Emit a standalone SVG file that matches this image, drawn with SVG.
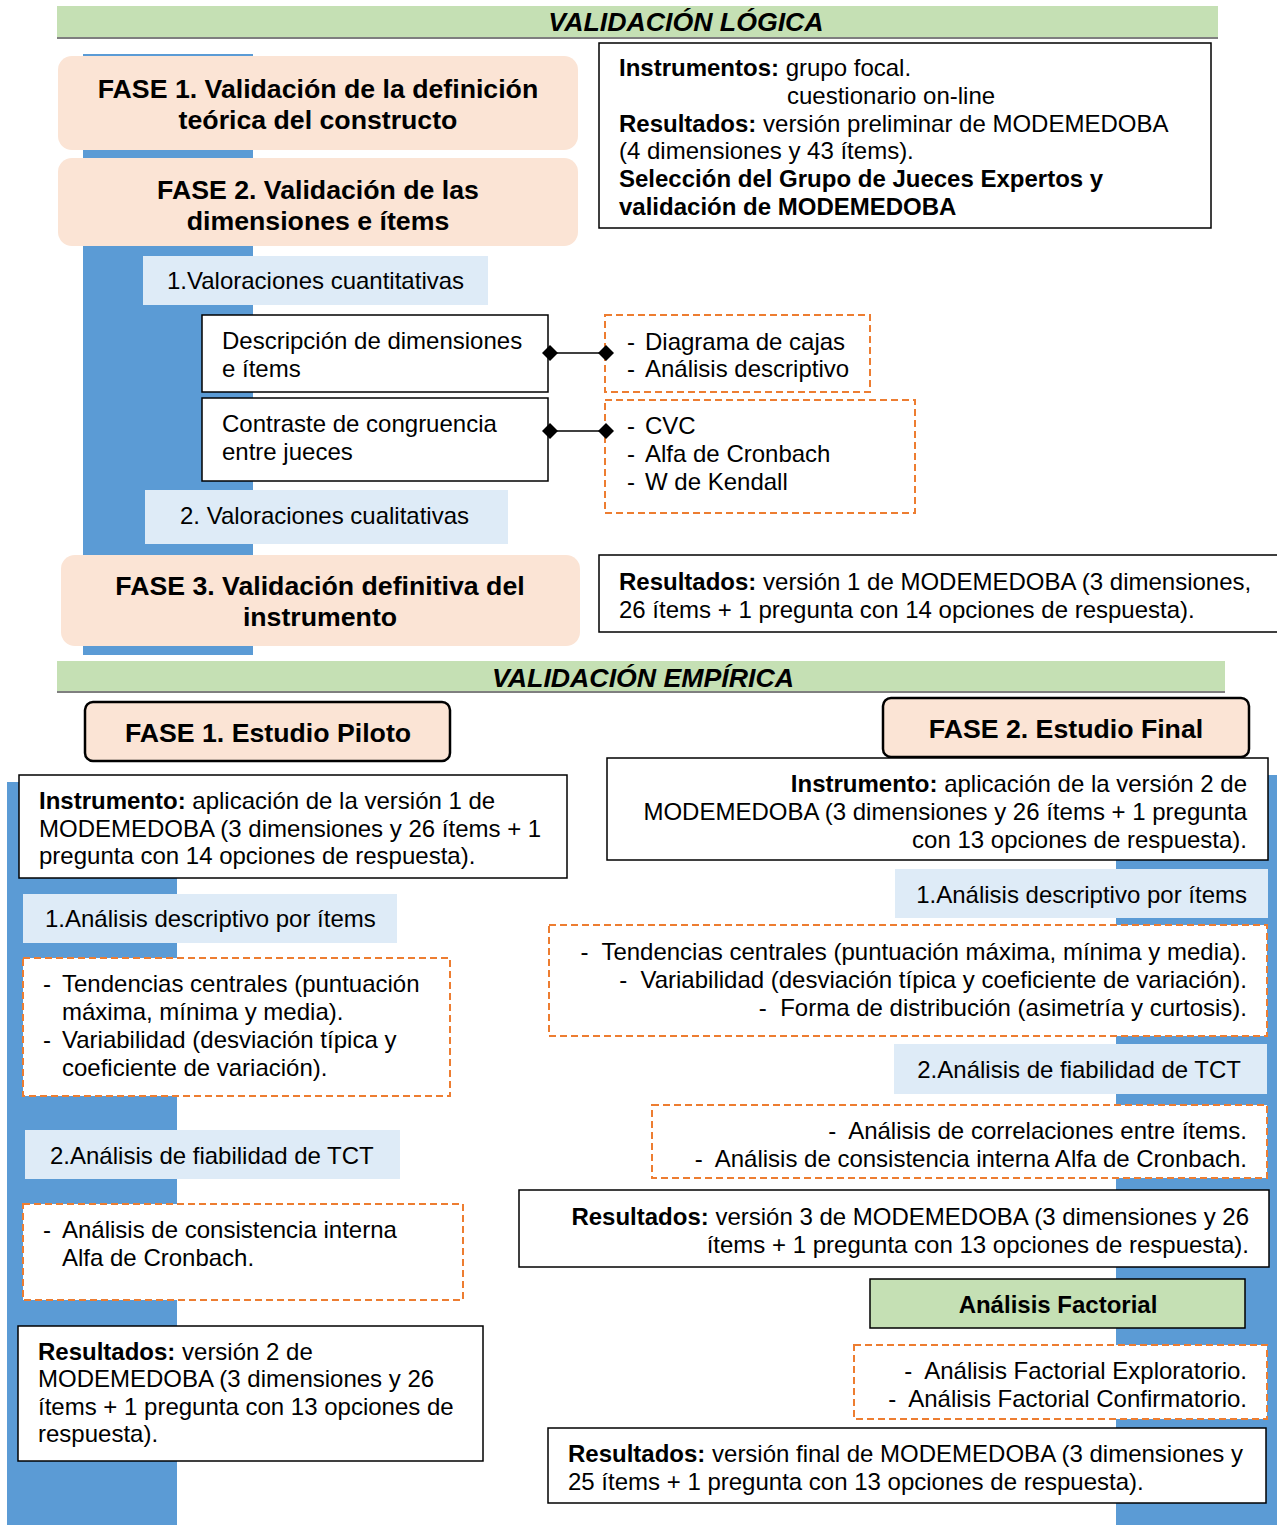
<svg xmlns="http://www.w3.org/2000/svg" width="1277" height="1525" viewBox="0 0 1277 1525">
  <defs>
    <marker id="diamond" viewBox="0 0 16 16" refX="8" refY="8" markerWidth="16" markerHeight="16" markerUnits="userSpaceOnUse" orient="auto">
      <path d="M0,8 L8,0 L16,8 L8,16 Z" fill="#000"/>
    </marker>
    <style>
      text { font-family: "Liberation Sans", Arial, sans-serif; font-size: 24px; fill: #000; }
      .b { font-weight: bold; }
      .banner-title { font-weight: bold; font-style: italic; font-size: 26.7px; text-anchor: middle; }
      .phase-title { font-weight: bold; font-size: 26.7px; text-anchor: middle; }
      .r { text-anchor: end; }
      .banner { fill: #C5E0B4; }
      .rule { stroke: #7F7F7F; stroke-width: 2; }
      .spine { fill: #5B9BD5; }
      .phase { fill: #FBE4D5; }
      .phase-outlined { fill: #FBE4D5; stroke: #000; stroke-width: 2.5; }
      .step { fill: #DEEBF7; }
      .box { fill: #fff; stroke: #000; stroke-width: 1.5; }
      .list { fill: #fff; stroke: #ED7D31; stroke-width: 2; stroke-dasharray: 7 4; }
      .factor { fill: #C5E0B4; stroke: #000; stroke-width: 1.5; }
      .link { stroke: #000; stroke-width: 1.5; fill: none; }
    </style>
  </defs>

  <rect width="1277" height="1525" fill="#fff"/>

  <!-- vertical spines behind the steps -->
  <rect class="spine" x="83" y="54" width="170" height="601"/>
  <rect class="spine" x="7" y="782" width="170" height="743"/>
  <rect class="spine" x="1116" y="775" width="161" height="750"/>

  <!-- ===== Logical validation ===== -->
  <g id="banner-logica">
    <rect class="banner" x="57" y="6" width="1161" height="31"/>
    <line class="rule" x1="57" y1="38" x2="1218" y2="38"/>
    <text class="banner-title" x="686" y="31">VALIDACIÓN LÓGICA</text>
  </g>

  <g id="fase1-logica">
    <rect class="phase" x="58" y="56" width="520" height="94" rx="14"/>
    <text class="phase-title" x="318" y="98">FASE 1. Validación de la definición</text>
    <text class="phase-title" x="318" y="129">teórica del constructo</text>
  </g>

  <g id="fase2-logica">
    <rect class="phase" x="58" y="158" width="520" height="88" rx="14"/>
    <text class="phase-title" x="318" y="199">FASE 2. Validación de las</text>
    <text class="phase-title" x="318" y="230">dimensiones e ítems</text>
  </g>

  <g id="instrumentos-logica">
    <rect class="box" x="599" y="43" width="612" height="185"/>
    <text x="619" y="76"><tspan class="b">Instrumentos:</tspan> grupo focal.</text>
    <text x="787" y="104">cuestionario on-line</text>
    <text x="619" y="132"><tspan class="b">Resultados:</tspan> versión preliminar de MODEMEDOBA</text>
    <text x="619" y="159">(4 dimensiones y 43 ítems).</text>
    <text class="b" x="619" y="187">Selección del Grupo de Jueces Expertos y</text>
    <text class="b" x="619" y="215">validación de MODEMEDOBA</text>
  </g>

  <g id="valoraciones-cuantitativas">
    <rect class="step" x="143" y="256" width="345" height="49"/>
    <text x="167" y="289">1.Valoraciones cuantitativas</text>
  </g>

  <g id="descripcion">
    <rect class="box" x="202" y="315" width="346" height="77"/>
    <text x="222" y="349">Descripción de dimensiones</text>
    <text x="222" y="377">e ítems</text>
  </g>

  <g id="contraste">
    <rect class="box" x="202" y="398" width="346" height="83"/>
    <text x="222" y="432">Contraste de congruencia</text>
    <text x="222" y="460">entre jueces</text>
  </g>

  <g id="lista-descripcion">
    <rect class="list" x="605" y="315" width="265" height="77"/>
    <text x="627" y="350">-</text><text x="645" y="350">Diagrama de cajas</text>
    <text x="627" y="377">-</text><text x="645" y="377">Análisis descriptivo</text>
  </g>

  <g id="lista-contraste">
    <rect class="list" x="605" y="400" width="310" height="113"/>
    <text x="627" y="434">-</text><text x="645" y="434">CVC</text>
    <text x="627" y="462">-</text><text x="645" y="462">Alfa de Cronbach</text>
    <text x="627" y="490">-</text><text x="645" y="490">W de Kendall</text>
  </g>

  <g id="valoraciones-cualitativas">
    <rect class="step" x="145" y="490" width="363" height="54"/>
    <text x="180" y="524">2. Valoraciones cualitativas</text>
  </g>

  <g id="fase3-logica">
    <rect class="phase" x="61" y="555" width="519" height="91" rx="14"/>
    <text class="phase-title" x="320" y="595">FASE 3. Validación definitiva del</text>
    <text class="phase-title" x="320" y="626">instrumento</text>
  </g>

  <g id="resultados-logica">
    <rect class="box" x="599" y="555" width="690" height="77"/>
    <text x="619" y="590"><tspan class="b">Resultados:</tspan> versión 1 de MODEMEDOBA (3 dimensiones,</text>
    <text x="619" y="618">26 ítems + 1 pregunta con 14 opciones de respuesta).</text>
  </g>

  <!-- ===== Empirical validation ===== -->
  <g id="banner-empirica">
    <rect class="banner" x="57" y="661" width="1168" height="31"/>
    <line class="rule" x1="57" y1="692" x2="1225" y2="692"/>
    <text class="banner-title" x="643" y="687">VALIDACIÓN EMPÍRICA</text>
  </g>

  <g id="fase1-empirica">
    <rect class="phase-outlined" x="85" y="702" width="365" height="59" rx="8"/>
    <text class="phase-title" x="268" y="742">FASE 1. Estudio Piloto</text>
  </g>

  <g id="fase2-empirica">
    <rect class="phase-outlined" x="883" y="698" width="366" height="59" rx="8"/>
    <text class="phase-title" x="1066" y="738">FASE 2. Estudio Final</text>
  </g>

  <!-- pilot study column -->
  <g id="instrumento-piloto">
    <rect class="box" x="19" y="775" width="548" height="103"/>
    <text x="39" y="809"><tspan class="b">Instrumento:</tspan> aplicación de la versión 1 de</text>
    <text x="39" y="837">MODEMEDOBA (3 dimensiones y 26 ítems + 1</text>
    <text x="39" y="864">pregunta con 14 opciones de respuesta).</text>
  </g>

  <g id="descriptivo-piloto">
    <rect class="step" x="23" y="894" width="374" height="49"/>
    <text x="45" y="927">1.Análisis descriptivo por ítems</text>
  </g>

  <g id="lista-descriptivo-piloto">
    <rect class="list" x="23" y="958" width="427" height="138"/>
    <text x="43" y="992">-</text><text x="62" y="992">Tendencias centrales (puntuación</text>
    <text x="62" y="1020">máxima, mínima y media).</text>
    <text x="43" y="1048">-</text><text x="62" y="1048">Variabilidad (desviación típica y</text>
    <text x="62" y="1076">coeficiente de variación).</text>
  </g>

  <g id="fiabilidad-piloto">
    <rect class="step" x="25" y="1130" width="375" height="49"/>
    <text x="50" y="1164">2.Análisis de fiabilidad de TCT</text>
  </g>

  <g id="lista-fiabilidad-piloto">
    <rect class="list" x="23" y="1204" width="440" height="96"/>
    <text x="43" y="1238">-</text><text x="62" y="1238">Análisis de consistencia interna</text>
    <text x="62" y="1266">Alfa de Cronbach.</text>
  </g>

  <g id="resultados-piloto">
    <rect class="box" x="18" y="1326" width="465" height="135"/>
    <text x="38" y="1360"><tspan class="b">Resultados:</tspan> versión 2 de</text>
    <text x="38" y="1387">MODEMEDOBA (3 dimensiones y 26</text>
    <text x="38" y="1415">ítems + 1 pregunta con 13 opciones de</text>
    <text x="38" y="1442">respuesta).</text>
  </g>

  <!-- final study column -->
  <g id="instrumento-final">
    <rect class="box" x="607" y="758" width="661" height="102"/>
    <text class="r" x="1247" y="792"><tspan class="b">Instrumento:</tspan> aplicación de la versión 2 de</text>
    <text class="r" x="1247" y="820">MODEMEDOBA (3 dimensiones y 26 ítems + 1 pregunta</text>
    <text class="r" x="1247" y="848">con 13 opciones de respuesta).</text>
  </g>

  <g id="descriptivo-final">
    <rect class="step" x="895" y="869" width="373" height="49"/>
    <text class="r" x="1247" y="903">1.Análisis descriptivo por ítems</text>
  </g>

  <g id="lista-descriptivo-final">
    <rect class="list" x="549" y="925" width="718" height="111"/>
    <text class="r" x="1247" y="960">-&#160; Tendencias centrales (puntuación máxima, mínima y media).</text>
    <text class="r" x="1247" y="988">-&#160; Variabilidad (desviación típica y coeficiente de variación).</text>
    <text class="r" x="1247" y="1016">-&#160; Forma de distribución (asimetría y curtosis).</text>
  </g>

  <g id="fiabilidad-final">
    <rect class="step" x="894" y="1044" width="373" height="50"/>
    <text class="r" x="1241" y="1078">2.Análisis de fiabilidad de TCT</text>
  </g>

  <g id="lista-fiabilidad-final">
    <rect class="list" x="652" y="1105" width="615" height="73"/>
    <text class="r" x="1247" y="1139">-&#160; Análisis de correlaciones entre ítems.</text>
    <text class="r" x="1247" y="1167">-&#160; Análisis de consistencia interna Alfa de Cronbach.</text>
  </g>

  <g id="resultados-final-v3">
    <rect class="box" x="519" y="1190" width="750" height="77"/>
    <text class="r" x="1249" y="1225"><tspan class="b">Resultados:</tspan> versión 3 de MODEMEDOBA (3 dimensiones y 26</text>
    <text class="r" x="1249" y="1253">ítems + 1 pregunta con 13 opciones de respuesta).</text>
  </g>

  <g id="analisis-factorial">
    <rect class="factor" x="870" y="1279" width="375" height="49"/>
    <text class="b" x="1058" y="1313" text-anchor="middle">Análisis Factorial</text>
  </g>

  <g id="lista-factorial">
    <rect class="list" x="854" y="1345" width="413" height="74"/>
    <text class="r" x="1247" y="1379">-&#160; Análisis Factorial Exploratorio.</text>
    <text class="r" x="1247" y="1407">-&#160; Análisis Factorial Confirmatorio.</text>
  </g>

  <g id="resultados-version-final">
    <rect class="box" x="548" y="1428" width="718" height="75"/>
    <text x="568" y="1462"><tspan class="b">Resultados:</tspan> versión final de MODEMEDOBA (3 dimensiones y</text>
    <text x="568" y="1490">25 ítems + 1 pregunta con 13 opciones de respuesta).</text>
  </g>

  <!-- connectors -->
  <g id="connectors">
    <line class="link" x1="550" y1="353" x2="606" y2="353" marker-start="url(#diamond)" marker-end="url(#diamond)"/>
    <line class="link" x1="550" y1="431" x2="606" y2="431" marker-start="url(#diamond)" marker-end="url(#diamond)"/>
  </g>
</svg>
